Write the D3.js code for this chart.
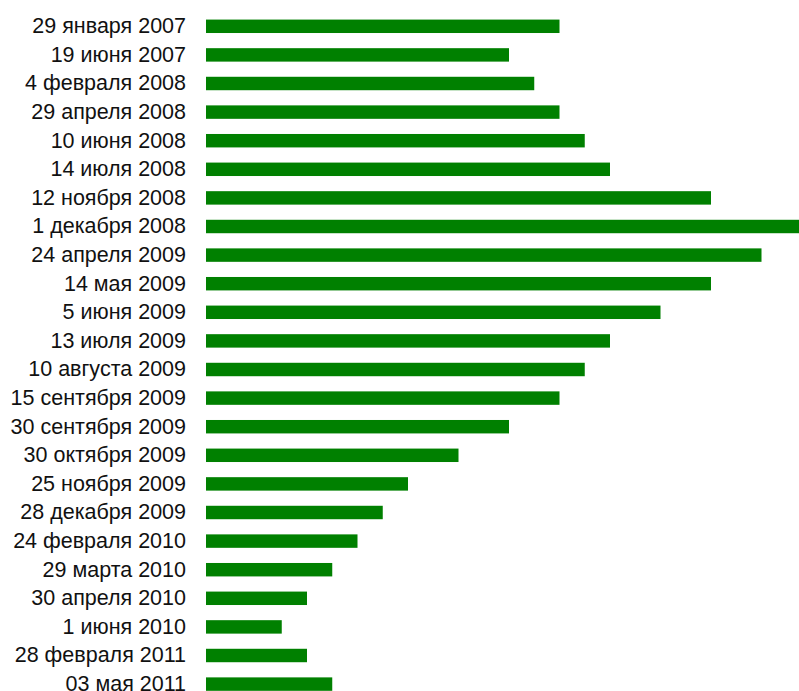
<!DOCTYPE html>
<html>
<head>
<meta charset="utf-8">
<script src="https://cdn.jsdelivr.net/npm/d3@7"></script>
<style>
  body { margin: 0; background: #fff; overflow: hidden; }
  svg { display: block; }
</style>
</head>
<body>
<svg width="799" height="691"></svg>
<script>
// даты изменения ставки
const dates = [
    '29 января 2007', '19 июня 2007', '4 февраля 2008', '29 апреля 2008',
    '10 июня 2008', '14 июля 2008', '12 ноября 2008', '1 декабря 2008',
    '24 апреля 2009', '14 мая 2009', '5 июня 2009', '13 июля 2009',
    '10 августа 2009', '15 сентября 2009', '30 сентября 2009', '30 октября 2009',
    '25 ноября 2009', '28 декабря 2009', '24 февраля 2010', '29 марта 2010',
    '30 апреля 2010', '1 июня 2010', '28 февраля 2011', '03 мая 2011'
];
const rates = [
    10.5, 10, 10.25, 10.5,
    10.75, 11, 12, 13,
    12.5, 12, 11.5, 11,
    10.75, 10.5, 10, 9.5,
    9, 8.75, 8.5, 8.25,
    8, 7.75, 8, 8.25
];
const axisMin = 7;

const svg = d3.select('svg'),
    margin = {top: 12, left: 206},
    rowStep = 28.6,
    height = rowStep * dates.length;

const x = d3.scaleLinear()
    .domain([axisMin, 13])
    .range([margin.left, 812]);

const y = d3.scaleBand()
    .domain(dates)
    .range([margin.top, margin.top + height])
    .paddingInner(0.53)
    .paddingOuter(0.265);

svg.append('g')
    .selectAll('rect')
    .data(rates)
    .enter().append('rect')
    .attr('x', x(axisMin))
    .attr('y', function (d, i) { return y(dates[i]); })
    .attr('width', function (d) { return x(d) - x(axisMin); })
    .attr('height', y.bandwidth())
    .attr('fill', '#008000');

const yAxis = d3.axisLeft(y).tickSize(0).tickPadding(0);
const ag = svg.append('g')
    .attr('transform', 'translate(186,0)')
    .call(yAxis);
ag.select('.domain').remove();
ag.selectAll('text')
    .attr('font-family', 'Liberation Sans, Arial, sans-serif')
    .attr('font-size', 21.5)
    .attr('fill', '#111');
</script>
</body>
</html>
